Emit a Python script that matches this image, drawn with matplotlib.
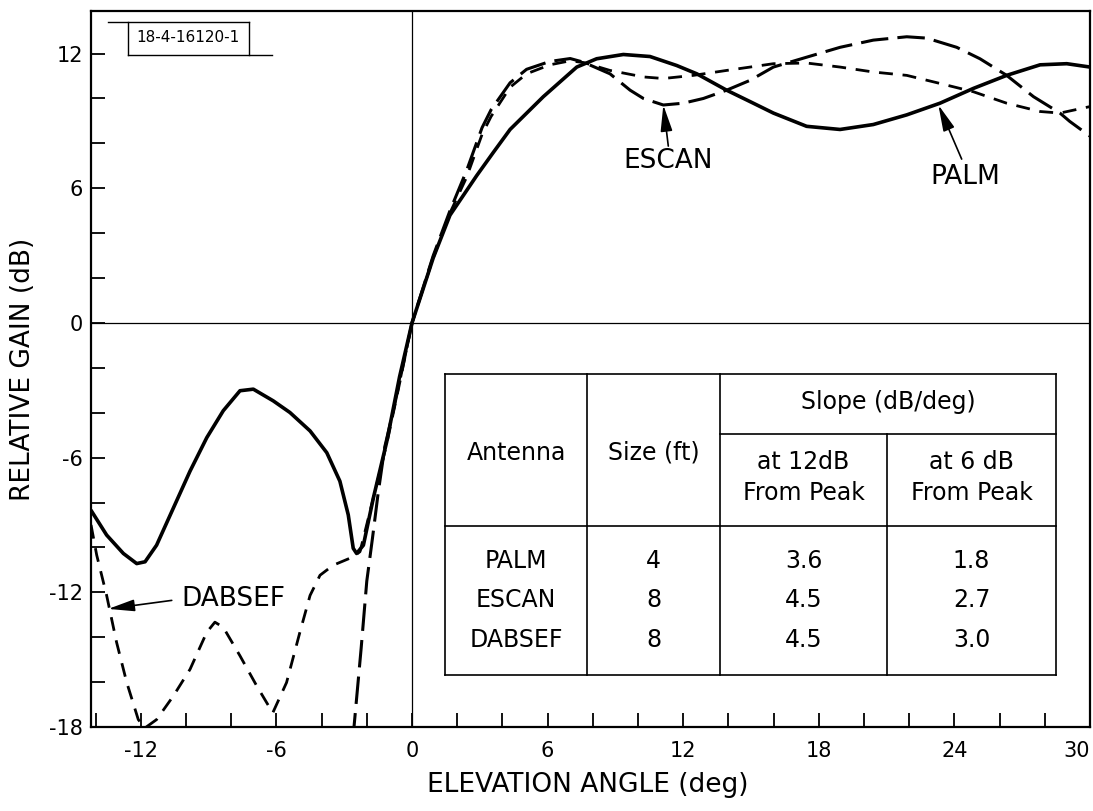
import numpy as np
import matplotlib
matplotlib.use('Agg')
import matplotlib.pyplot as plt
from matplotlib.ticker import FixedLocator

plt.rcParams['font.family'] = ['DejaVu Sans']
plt.rcParams['axes.unicode_minus'] = False

# ============================================
# DADOS
# ============================================

# PALM - linha cheia
palm_x = [-14.2, -13.51, -12.77, -12.18, -11.81, -11.3, -10.56, -9.82, -9.08, -8.35,
          -7.61, -7.02, -6.14, -5.4, -4.51, -3.77, -3.19, -2.82, -2.6, -2.45,
          -2.15, -1.71, -1.12, -0.55, 0.0, 0.94, 1.68, 2.86, 3.6, 4.34,
          5.81, 7.29, 8.17, 9.35, 10.53, 11.71, 12.6, 13.92, 14.96, 15.99,
          17.46, 18.94, 20.41, 21.89, 23.36, 24.84, 26.31, 27.79, 28.97, 30.0]
palm_y = [-8.35, -9.45, -10.27, -10.72, -10.64, -9.9, -8.25, -6.6, -5.11, -3.91,
          -3.02, -2.95, -3.47, -3.99, -4.81, -5.78, -7.05, -8.55, -10.04, -10.27,
          -9.9, -7.8, -5.3, -2.4, 0.0, 2.9, 4.8, 6.56, 7.6, 8.62,
          10.08, 11.4, 11.77, 11.96, 11.87, 11.47, 11.1, 10.37, 9.86, 9.35,
          8.76, 8.62, 8.84, 9.27, 9.79, 10.45, 11.03, 11.5, 11.55, 11.4]

# ESCAN - traço longo
escan_x = [-2.62, -2.25, -2.0, -1.75, -1.5, -1.2, -0.8, -0.4, 0.0, 0.94,
           1.68, 2.42, 3.1, 3.5, 4.34, 5.07, 6.1, 7.0, 7.58, 8.76,
           9.65, 10.24, 11.12, 12.0, 12.89, 13.92, 14.96, 15.99, 17.46, 18.94,
           20.41, 21.89, 22.77, 24.1, 25.13, 26.31, 27.5, 28.67, 29.1, 30.0]
escan_y = [-18.6, -14.5, -11.5, -9.6, -7.6, -5.5, -3.8, -1.9, 0.0, 3.0,
           5.0, 6.8, 8.7, 9.5, 10.7, 11.3, 11.65, 11.78, 11.62, 11.1,
           10.37, 10.0, 9.71, 9.79, 10.0, 10.37, 10.81, 11.4, 11.84, 12.28,
           12.6, 12.75, 12.69, 12.28, 11.77, 11.03, 10.08, 9.35, 8.98, 8.32]

# DABSEF - traço curto
dabsef_x = [-14.2, -13.95, -13.51, -13.07, -12.62, -12.11, -11.81, -11.3, -10.56, -9.82,
            -9.08, -8.72, -8.35, -7.61, -6.87, -6.16, -5.55, -4.96, -4.51, -4.07,
            -3.48, -2.6, -2.3, -1.71, -1.12, -0.53, 0.0, 0.94, 1.68, 2.42,
            3.1, 3.5, 4.34, 5.07, 6.1, 7.0, 7.6, 8.76, 10.24, 11.12,
            12.45, 13.92, 14.96, 15.99, 17.46, 18.94, 20.41, 21.89, 23.36, 24.84,
            26.31, 27.79, 28.67, 30.0]
dabsef_y = [-9.0, -10.34, -12.14, -14.23, -16.02, -17.67, -18.04, -17.67, -16.62, -15.43,
            -13.78, -13.33, -13.56, -14.83, -16.17, -17.37, -16.02, -13.78, -12.14, -11.24,
            -10.79, -10.42, -10.19, -7.8, -5.4, -2.6, 0.0, 2.9, 4.9, 6.5,
            8.4, 9.2, 10.5, 11.1, 11.5, 11.68, 11.6, 11.25, 10.96, 10.89,
            11.03, 11.25, 11.4, 11.55, 11.58, 11.4, 11.18, 11.03, 10.67, 10.3,
            9.79, 9.42, 9.35, 9.64]

# tabela
antenas = ['PALM', 'ESCAN', 'DABSEF']
tamanhos = ['4', '8', '8']
slope_12 = ['3.6', '4.5', '4.5']
slope_6 = ['1.8', '2.7', '3.0']

x_ticks = [-12, -6, 0, 6, 12, 18, 24, 30]
y_ticks = [-18, -12, -6, 0, 6, 12]

# ============================================
# GRAFICO
# ============================================

fig = plt.figure(figsize=(10.93, 8.11), dpi=100)
ax = fig.add_axes([0.0833, 0.1036, 0.9140, 0.8829])

ax.plot(palm_x, palm_y, color='black', linewidth=2.6, solid_capstyle='round')
ax.plot(escan_x, escan_y, color='black', linewidth=2.2, dashes=(9, 3))
ax.plot(dabsef_x, dabsef_y, color='black', linewidth=2.0, dashes=(5, 3.5))

ax.axhline(0, color='black', linewidth=0.9, zorder=1)
ax.axvline(0, color='black', linewidth=0.9, zorder=1)

ax.set_xlim(-14.2, 30)
ax.set_ylim(-18, 13.9)

ax.xaxis.set_major_locator(FixedLocator(x_ticks))
ax.xaxis.set_minor_locator(FixedLocator(np.arange(-14, 30, 2)))
ax.yaxis.set_major_locator(FixedLocator(y_ticks))
ax.yaxis.set_minor_locator(FixedLocator(np.arange(-16, 14, 2)))
ax.set_xticklabels([str(t) for t in x_ticks])
ax.set_yticklabels([str(t) for t in y_ticks])
ax.tick_params(which='both', direction='in', length=10, width=1.3,
               top=False, right=False)
ax.tick_params(axis='x', which='major', labelsize=15, pad=10)
ax.tick_params(axis='y', which='major', labelsize=15, pad=6)
ax.get_xticklabels()[-1].set_horizontalalignment('right')

for s in ax.spines.values():
    s.set_linewidth(1.6)

ax.set_xlabel('ELEVATION ANGLE (deg)', fontsize=19, va='center')
ax.xaxis.set_label_coords(0.497, -0.081)
ax.set_ylabel('RELATIVE GAIN (dB)', fontsize=19, va='center')
ax.yaxis.set_label_coords(-0.068, 0.50)

# rotulos com setas
seta = dict(arrowstyle='-|>,head_length=0.8,head_width=0.18', color='black',
            lw=1.2, mutation_scale=20, shrinkA=0, shrinkB=0)
ax.annotate('', xy=(11.12, 9.71), xytext=(11.34, 7.88), arrowprops=seta)
ax.text(11.34, 7.2, 'ESCAN', fontsize=19, ha='center', va='center')
ax.annotate('', xy=(23.29, 9.71), xytext=(24.32, 7.3), arrowprops=seta)
ax.text(24.47, 6.49, 'PALM', fontsize=19, ha='center', va='center')
ax.annotate('', xy=(-13.44, -12.74), xytext=(-10.63, -12.36), arrowprops=seta)
ax.text(-7.89, -12.32, 'DABSEF', fontsize=19, ha='center', va='center')

# numero da figura no canto
T = ax.transAxes
ax.plot([0.017, 0.1585], [0.985, 0.985], color='black', lw=1.0, transform=T)
ax.plot([0.0367, 0.1812], [0.9385, 0.9385], color='black', lw=1.0, transform=T)
ax.plot([0.0367, 0.0367], [0.9385, 0.985], color='black', lw=1.0, transform=T)
ax.plot([0.1585, 0.1585], [0.9385, 0.985], color='black', lw=1.0, transform=T)
ax.text(0.0971, 0.9623, '18-4-16120-1', fontsize=11, ha='center', va='center', transform=T)

# tabela
cols = [0.3544, 0.4965, 0.6296, 0.7968, 0.966]
topo, linha_slope, fim_cab, base = 0.4930, 0.4092, 0.2807, 0.0726
lw_t = 1.2
ax.fill_between([cols[0], cols[-1]], base, topo, color='white', transform=T, zorder=3)
for c in [cols[0], cols[1], cols[2], cols[4]]:
    ax.plot([c, c], [base, topo], color='black', lw=lw_t, transform=T, zorder=4)
ax.plot([cols[3], cols[3]], [base, linha_slope], color='black', lw=lw_t, transform=T, zorder=4)
ax.plot([cols[0], cols[4]], [topo, topo], color='black', lw=lw_t, transform=T, zorder=4)
ax.plot([cols[0], cols[4]], [base, base], color='black', lw=lw_t, transform=T, zorder=4)
ax.plot([cols[0], cols[4]], [fim_cab, fim_cab], color='black', lw=lw_t, transform=T, zorder=4)
ax.plot([cols[2], cols[4]], [linha_slope, linha_slope], color='black', lw=lw_t, transform=T, zorder=4)

centros = [(cols[i] + cols[i + 1]) / 2 for i in range(4)]
fs_t = 17
ax.text(centros[0], 0.3827, 'Antenna', fontsize=fs_t, ha='center', va='center', transform=T, zorder=5)
ax.text(centros[1], 0.3827, 'Size (ft)', fontsize=fs_t, ha='center', va='center', transform=T, zorder=5)
ax.text((cols[2] + cols[4]) / 2, 0.4539, 'Slope (dB/deg)', fontsize=fs_t, ha='center', va='center',
        transform=T, zorder=5)
ax.text(centros[2], 0.3701, 'at 12dB', fontsize=fs_t, ha='center', va='center', transform=T, zorder=5)
ax.text(centros[2], 0.3268, 'From Peak', fontsize=fs_t, ha='center', va='center', transform=T, zorder=5)
ax.text(centros[3], 0.3701, 'at 6 dB', fontsize=fs_t, ha='center', va='center', transform=T, zorder=5)
ax.text(centros[3], 0.3268, 'From Peak', fontsize=fs_t, ha='center', va='center', transform=T, zorder=5)

linhas_y = [0.2318, 0.1774, 0.1215]
for i in range(3):
    for j, valor in enumerate([antenas[i], tamanhos[i], slope_12[i], slope_6[i]]):
        ax.text(centros[j], linhas_y[i], valor, fontsize=fs_t, ha='center', va='center',
                transform=T, zorder=5)

plt.savefig('out.png', dpi=100)
